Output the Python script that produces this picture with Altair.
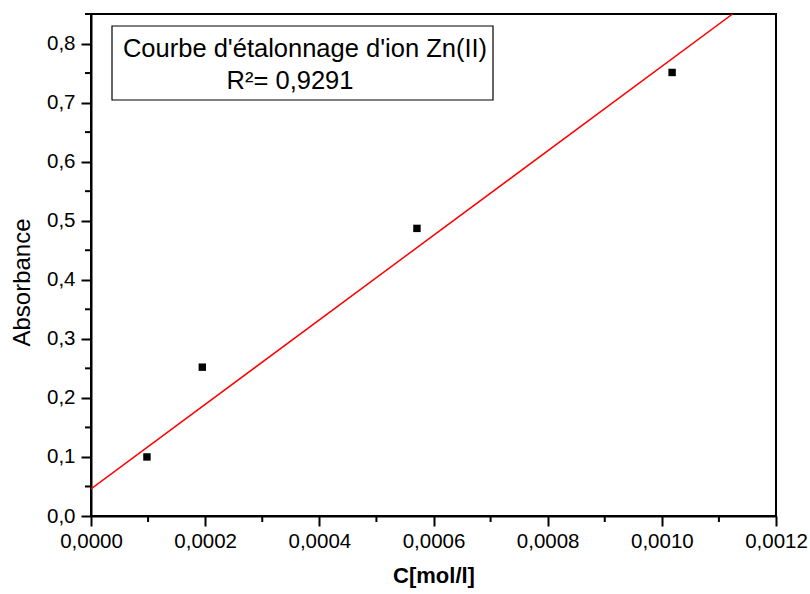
import altair as alt
import pandas as pd

# Calibration points: concentration (mol/l) and measured absorbance
conc = [0.000098, 0.000195, 0.000571, 0.001018]
absorbance = [0.100, 0.252, 0.487, 0.751]

# Linear fit drawn across the plot
fit_x = [0.0, 0.001124]
fit_y = [0.046, 0.850]

# Tick positions
x_major = [0.0, 0.0002, 0.0004, 0.0006, 0.0008, 0.0010, 0.0012]
x_minor = [0.0001, 0.0003, 0.0005, 0.0007, 0.0009, 0.0011]
y_major = [0.0, 0.1, 0.2, 0.3, 0.4, 0.5, 0.6, 0.7, 0.8]
y_minor = [0.05, 0.15, 0.25, 0.35, 0.45, 0.55, 0.65, 0.75, 0.85]

legend_title = "Courbe d'étalonnage d'ion Zn(II)"
legend_r2 = "R²= 0,9291"

FONT = "Liberation Sans"
W, H = 685, 502

xs = alt.Scale(domain=[0, 0.0012], nice=False, zero=False)
ys = alt.Scale(domain=[0, 0.85], nice=False, zero=False)

pts = pd.DataFrame({"c": conc, "a": absorbance})
fit = pd.DataFrame({"c": fit_x, "a": fit_y})

x_axis = alt.Axis(
    values=x_major, title="C[mol/l]", titleFontWeight="bold", titleFontSize=22,
    labelExpr="replace(format(datum.value, '.4f'), '.', ',')",
    labelFlush=False, labelOverlap=False,
    tickSize=10, tickWidth=2, domainWidth=2, labelPadding=5, titlePadding=14,
)
y_axis = alt.Axis(
    values=y_major, title="Absorbance", titleFontWeight="normal", titleFontSize=24,
    labelExpr="replace(format(datum.value, '.1f'), '.', ',')",
    labelFlush=False, labelOverlap=False,
    tickSize=10, tickWidth=2, domainWidth=2, labelPadding=6, titlePadding=12,
    titleY=268,
)

line = alt.Chart(fit).mark_line(color="#ff0000", strokeWidth=1.5, clip=True).encode(
    x=alt.X("c:Q", scale=xs, axis=x_axis),
    y=alt.Y("a:Q", scale=ys, axis=y_axis),
)

points = alt.Chart(pts).mark_point(
    shape="square", filled=True, color="black", size=55, opacity=1
).encode(x=alt.X("c:Q", scale=xs), y=alt.Y("a:Q", scale=ys))

# Minor ticks outside the frame
xmin_df = pd.DataFrame({"c": x_minor})
ymin_df = pd.DataFrame({"a": y_minor})
x_minor_ticks = alt.Chart(xmin_df).mark_rule(color="black", strokeWidth=2, clip=False).encode(
    x=alt.X("c:Q", scale=xs), y=alt.value(H), y2=alt.value(H + 6)
)
y_minor_ticks = alt.Chart(ymin_df).mark_rule(color="black", strokeWidth=2, clip=False).encode(
    y=alt.Y("a:Q", scale=ys), x=alt.value(-6), x2=alt.value(0)
)

# Annotation box with the curve name and R²
box = alt.Chart(pd.DataFrame({"k": [0]})).mark_rect(
    fill="white", stroke="black", strokeWidth=1.2
).encode(x=alt.value(21), x2=alt.value(402), y=alt.value(12), y2=alt.value(86))

txt1 = alt.Chart(pd.DataFrame({"t": [legend_title]})).mark_text(
    font=FONT, fontSize=25.5, color="black", align="center", baseline="middle"
).encode(x=alt.value(214), y=alt.value(35), text="t:N")

txt2 = alt.Chart(pd.DataFrame({"t": [legend_r2]})).mark_text(
    font=FONT, fontSize=25.5, color="black", align="center", baseline="middle"
).encode(x=alt.value(199), y=alt.value(67), text="t:N")

chart = alt.layer(
    line, points, x_minor_ticks, y_minor_ticks, box, txt1, txt2
).properties(
    width=W, height=H,
    autosize=alt.AutoSizeParams(type="none"),
    padding={"left": 91, "top": 14, "right": 34, "bottom": 78},
    background="white",
).configure_view(
    stroke="black", strokeWidth=2
).configure_axis(
    labelFont=FONT, titleFont=FONT, labelFontSize=20.5,
    labelColor="black", titleColor="black", domainColor="black", tickColor="black",
    grid=False,
)

chart.save("out.html", embed_options={"renderer": "svg", "actions": False})
